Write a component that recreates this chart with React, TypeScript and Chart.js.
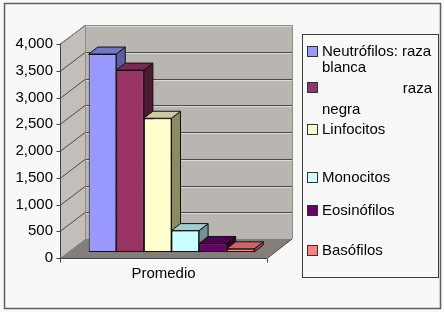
import React, { useEffect, useRef } from 'react';
import { Chart, registerables } from 'chart.js';

Chart.register(...registerables);

// ---- data ----
const categories = ['Promedio'];
const legendLines = [
  ['Neutrófilos: raza', 'blanca'],
  ['raza', 'negra'],
  ['Linfocitos'],
  ['Monocitos'],
  ['Eosinófilos'],
  ['Basófilos'],
];
const seriesLabels = legendLines.map((l) => l.join(' '));
const seriesValues = [3700, 3400, 2500, 400, 160, 60];
const yMin = 0;
const yMax = 4000;
const yStep = 500;

// ---- styles ----
const frontColors = ['#9999FF', '#993366', '#FFFFCC', '#CCFFFF', '#660066', '#FF8080'];
const topColors = ['#7474C8', '#7A2952', '#CCCAA2', '#A3CCCC', '#520052', '#CC6666'];
const sideColors = ['#5C5CA3', '#4D1A33', '#8C8A5E', '#6E9494', '#330033', '#8C4747'];
const FONT = '"Liberation Sans", Arial, sans-serif';
const BG = '#f8f8f8';

const FRONT = { dx: -8, dy: 6 };
const BACK = { dx: 17, dy: -13 };
const BAR_D = { dx: 9, dy: -7 };

function poly(ctx: CanvasRenderingContext2D, pts: number[][], fill: string | null, stroke: string | null) {
  ctx.beginPath();
  ctx.moveTo(pts[0][0], pts[0][1]);
  for (let i = 1; i < pts.length; i++) ctx.lineTo(pts[i][0], pts[i][1]);
  ctx.closePath();
  if (fill) {
    ctx.fillStyle = fill;
    ctx.fill();
  }
  if (stroke) {
    ctx.strokeStyle = stroke;
    ctx.lineWidth = 1;
    ctx.stroke();
  }
}

const excel3d = {
  id: 'excel3d',
  beforeDraw(chart: any) {
    const { ctx, chartArea: a } = chart;
    const ys = chart.scales.y;
    ctx.save();
    ctx.fillStyle = BG;
    ctx.fillRect(0, 0, chart.width, chart.height);
    ctx.strokeStyle = '#5f5f5f';
    ctx.lineWidth = 1.5;
    ctx.strokeRect(4.5, 3.5, 436, 305);

    const y0 = ys.getPixelForValue(yMin);
    const yT = ys.getPixelForValue(yMax);
    const fl = a.left + FRONT.dx, fr = a.right + FRONT.dx;
    const bl = a.left + BACK.dx, br = a.right + BACK.dx;

    // left wall
    poly(ctx, [[fl, yT + FRONT.dy], [bl, yT + BACK.dy], [bl, y0 + BACK.dy], [fl, y0 + FRONT.dy]], '#c2beba', null);
    // back wall
    poly(ctx, [[bl, yT + BACK.dy], [br, yT + BACK.dy], [br, y0 + BACK.dy], [bl, y0 + BACK.dy]], '#b9b5b1', null);
    // floor
    poly(ctx, [[fl, y0 + FRONT.dy], [fr, y0 + FRONT.dy], [br, y0 + BACK.dy], [bl, y0 + BACK.dy]], '#837e79', null);

    // gridlines
    ys.ticks.forEach((t: any) => {
      if (t.value === yMin) return;
      const py = Math.round(ys.getPixelForValue(t.value)) + 0.5;
      ctx.lineWidth = 1;
      ctx.strokeStyle = '#4c4946';
      ctx.beginPath();
      ctx.moveTo(fl, py + FRONT.dy);
      ctx.lineTo(bl, py + BACK.dy);
      ctx.lineTo(br, py + BACK.dy);
      ctx.stroke();
      ctx.strokeStyle = '#dcd8d4';
      ctx.beginPath();
      ctx.moveTo(bl + 1, py + BACK.dy + 1);
      ctx.lineTo(br, py + BACK.dy + 1);
      ctx.stroke();
    });

    // wall edges
    ctx.strokeStyle = '#8e8a86';
    ctx.lineWidth = 1;
    ctx.beginPath();
    ctx.moveTo(fl, yT + FRONT.dy);
    ctx.lineTo(bl + 0.5, yT + BACK.dy + 0.5);
    ctx.lineTo(br + 0.5, yT + BACK.dy + 0.5);
    ctx.lineTo(br + 0.5, y0 + BACK.dy);
    ctx.stroke();
    ctx.beginPath();
    ctx.moveTo(bl + 0.5, yT + BACK.dy);
    ctx.lineTo(bl + 0.5, y0 + BACK.dy);
    ctx.stroke();

    // front axes
    ctx.strokeStyle = '#444';
    const ax = Math.round(fl) + 0.5;
    const by = Math.round(y0 + FRONT.dy) + 0.5;
    ctx.beginPath();
    ctx.moveTo(ax, yT + FRONT.dy);
    ctx.lineTo(ax, by);
    ctx.lineTo(fr, by);
    ctx.lineTo(br, y0 + BACK.dy);
    ctx.stroke();
    ys.ticks.forEach((t: any) => {
      const py = Math.round(ys.getPixelForValue(t.value) + FRONT.dy) + 0.5;
      ctx.beginPath();
      ctx.moveTo(ax - 4, py);
      ctx.lineTo(ax, py);
      ctx.stroke();
    });
    ctx.beginPath();
    ctx.moveTo(ax, by);
    ctx.lineTo(ax, by + 4);
    ctx.moveTo(Math.round(fr) + 0.5, by);
    ctx.lineTo(Math.round(fr) + 0.5, by + 4);
    ctx.stroke();
    ctx.restore();
  },
  beforeDatasetsDraw(chart: any) {
    const { ctx } = chart;
    ctx.save();
    chart.data.datasets.forEach((ds: any, i: number) => {
      const meta = chart.getDatasetMeta(i);
      meta.data.forEach((bar: any) => {
        const { x, y, base, width } = bar.getProps(['x', 'y', 'base', 'width'], true);
        const l = x - width / 2, r = x + width / 2;
        poly(ctx, [[r, y], [r + BAR_D.dx, y + BAR_D.dy], [r + BAR_D.dx, base + BAR_D.dy], [r, base]], sideColors[i], '#111');
        poly(ctx, [[l, y], [l + BAR_D.dx, y + BAR_D.dy], [r + BAR_D.dx, y + BAR_D.dy], [r, y]], topColors[i], '#111');
      });
    });
    ctx.restore();
  },
  afterDraw(chart: any) {
    const { ctx } = chart;
    ctx.save();
    ctx.strokeStyle = '#3c3c3c';
    ctx.lineWidth = 1;
    ctx.strokeRect(302.5, 34.5, 136, 243);
    const items = [
      { sq: 51, lines: [[322, 51, 'left'], [322, 67, 'left']] },
      { sq: 87, lines: [[432, 88, 'right'], [322, 109, 'left']] },
      { sq: 129, lines: [[322, 129, 'left']] },
      { sq: 177, lines: [[322, 177, 'left']] },
      { sq: 210, lines: [[322, 210, 'left']] },
      { sq: 250, lines: [[322, 250, 'left']] },
    ];
    ctx.font = '15px ' + FONT;
    ctx.textBaseline = 'middle';
    ctx.fillStyle = '#000';
    chart.data.datasets.forEach((ds: any, i: number) => {
      const it = items[i];
      ctx.fillStyle = ds.backgroundColor;
      ctx.fillRect(307, it.sq - 5, 11, 11);
      ctx.strokeStyle = '#333';
      ctx.strokeRect(307.5, it.sq - 4.5, 10, 10);
      ctx.fillStyle = '#000';
      legendLines[i].forEach((txt, j) => {
        const [lx, ly, al] = it.lines[j] as any;
        ctx.textAlign = al;
        ctx.fillText(txt, lx, ly + 1);
      });
    });
    ctx.restore();
  },
};

export default function App() {
  const ref = useRef<HTMLCanvasElement>(null);
  useEffect(() => {
    document.body.style.margin = '0';
    const chart = new Chart(ref.current!, {
      type: 'bar',
      data: {
        labels: categories,
        datasets: seriesLabels.map((label, i) => ({
          label,
          data: [seriesValues[i]],
          backgroundColor: frontColors[i],
          borderColor: '#111',
          borderWidth: 1,
          borderSkipped: false,
          categoryPercentage: 0.8,
          barPercentage: 1.0,
        })),
      },
      options: {
        responsive: false,
        animation: false,
        layout: { padding: { left: 0, right: 169, top: 38, bottom: 0 } },
        plugins: { legend: { display: false }, tooltip: { enabled: false } },
        scales: {
          x: {
            grid: { display: false, drawTicks: false },
            border: { display: false },
            ticks: { labelOffset: -8, padding: 13, color: '#000', font: { family: FONT, size: 15 } },
            afterFit: (s: any) => { s.height = 60; },
          },
          y: {
            min: yMin,
            max: yMax,
            grid: { display: false, drawTicks: false },
            border: { display: false },
            ticks: {
              stepSize: yStep,
              labelOffset: 6,
              padding: 15,
              color: '#000',
              font: { family: FONT, size: 15 },
              callback: (v: any) => Number(v).toLocaleString('en-US'),
            },
            afterFit: (s: any) => { s.width = 68; },
          },
        },
      },
      plugins: [excel3d],
    });
    return () => chart.destroy();
  }, []);
  return <canvas ref={ref} width={444} height={312} style={{ display: 'block' }} />;
}
